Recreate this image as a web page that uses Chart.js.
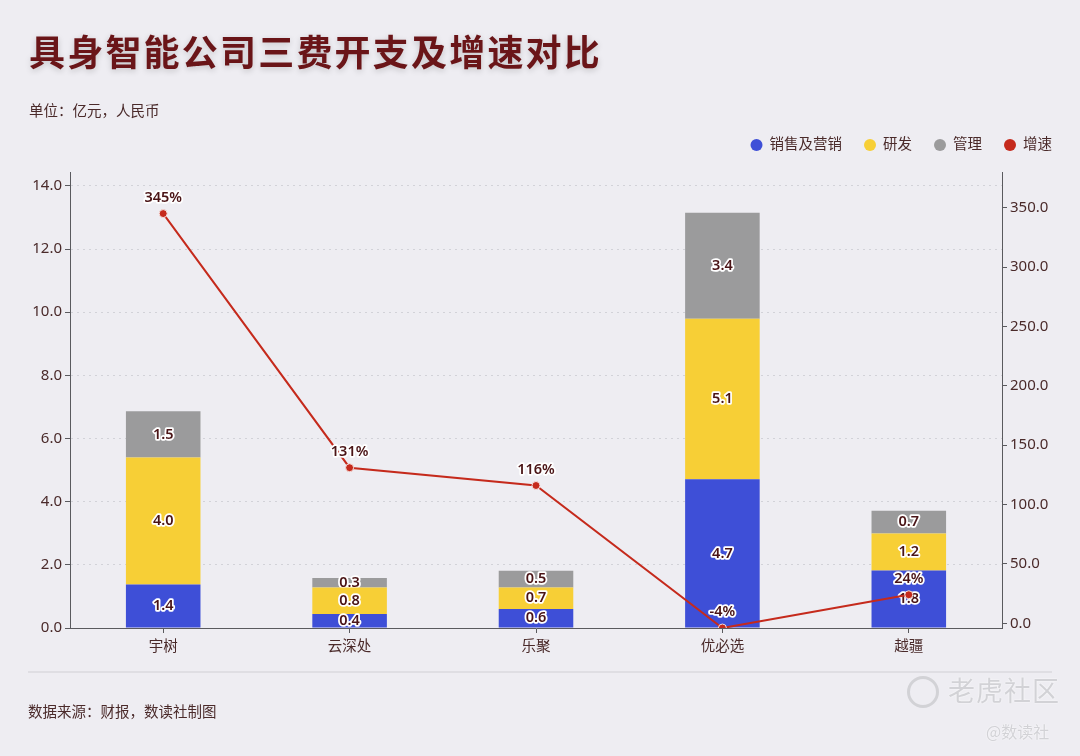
<!DOCTYPE html>
<html><head><meta charset="utf-8">
<script src="https://cdn.jsdelivr.net/npm/chart.js@4.4.0/dist/chart.umd.min.js"></script>
<style>
html,body{margin:0;padding:0;background:#eeedf2;}
#wrap{position:relative;width:1080px;height:756px;overflow:hidden;font-family:"Noto Sans CJK SC","Noto Sans",sans-serif;background:#eeedf2;}
#c{position:absolute;left:0;top:0;}
.title{position:absolute;left:29px;top:28px;font-size:36px;font-weight:700;color:#6a1518;letter-spacing:2.2px;line-height:44px;text-shadow:0 2px 6px rgba(0,0,0,0.18);white-space:nowrap;}
.sub{position:absolute;left:29px;top:100px;font-size:14.5px;line-height:20px;color:#4a2a2a;}
.sep{position:absolute;left:28px;top:671px;width:1024px;height:2px;background:#dfdee3;}
.foot{position:absolute;left:28px;top:701px;font-size:14.5px;line-height:20px;color:#4a2a2a;}
.wm1{position:absolute;left:948px;top:672px;font-size:27px;line-height:36px;color:#d2d2d6;text-shadow:0 0 2px #fff;letter-spacing:1px;}
.wm2{position:absolute;left:986px;top:720px;font-size:16px;line-height:22px;color:#d2d2d6;text-shadow:0 0 2px #fff;}
.logo{position:absolute;left:907px;top:676px;width:26px;height:26px;border:3px solid #d2d2d6;border-radius:50%;}
</style></head>
<body>
<div id="wrap">
<canvas id="c" width="1080" height="756"></canvas>
<div class="title">具身智能公司三费开支及增速对比</div>
<div class="sub">单位：亿元，人民币</div>
<div class="sep"></div>
<div class="foot">数据来源：财报，数读社制图</div>
<div class="logo"></div>
<div class="wm1">老虎社区</div>
<div class="wm2">@数读社</div>
</div>
<script>
const categories = ['宇树','云深处','乐聚','优必选','越疆'];
const seriesNames = ['销售及营销','研发','管理','增速'];
const salesMarketing = [1.38, 0.44, 0.60, 4.71, 1.82];
const rnd = [4.02, 0.84, 0.68, 5.08, 1.17];
const admin = [1.46, 0.30, 0.53, 3.36, 0.72];
const growth = [345, 131, 116, -4, 24];
const leftTicks = [0, 2, 4, 6, 8, 10, 12, 14];
const rightTicks = [0, 50, 100, 150, 200, 250, 300, 350];

const FONT = '"Noto Sans","Noto Sans CJK SC",sans-serif';
const TXT = '#4a2a2a';
const AX = '#5a5a5e';

const valuePlugin = {
  id: 'vals',
  afterDatasetDraw(chart, args) {
    const ds = chart.data.datasets[args.index];
    const ctx = chart.ctx;
    ctx.save();
    ctx.font = '600 14.5px ' + FONT;
    ctx.textAlign = 'center';
    ctx.textBaseline = 'middle';
    ctx.lineJoin = 'round';
    args.meta.data.forEach((el, j) => {
      const v = ds.data[j];
      let x = el.x, y, t;
      if (ds.type === 'line') { y = el.y - 16; t = v + '%'; }
      else { y = (el.y + el.base) / 2; t = v.toFixed(1); }
      ctx.lineWidth = 3.5; ctx.strokeStyle = '#ffffff'; ctx.strokeText(t, x, y);
      ctx.fillStyle = '#4a1416'; ctx.fillText(t, x, y);
    });
    ctx.restore();
  }
};

const legendPlugin = {
  id: 'customLegend',
  afterDraw(chart) {
    const ctx = chart.ctx;
    ctx.save();
    ctx.font = '14.5px ' + FONT;
    ctx.textBaseline = 'middle';
    const r = 6, gapT = 7, gapI = 22, y = 145;
    const items = chart.data.datasets.map(d => ({label: d.label, color: d.type === 'line' ? d.borderColor : d.backgroundColor}));
    const widths = items.map(it => 2 * r + gapT + ctx.measureText(it.label).width);
    const total = widths.reduce((a, b) => a + b, 0) + gapI * (items.length - 1);
    let x = 1052 - total;
    items.forEach((it, i) => {
      ctx.beginPath();
      ctx.arc(x + r, y, r, 0, Math.PI * 2);
      ctx.fillStyle = it.color; ctx.fill();
      ctx.fillStyle = TXT;
      ctx.textAlign = 'left';
      ctx.fillText(it.label, x + 2 * r + gapT, y);
      x += widths[i] + gapI;
    });
    ctx.restore();
  }
};

new Chart(document.getElementById('c'), {
  data: {
    labels: categories,
    datasets: [
      {type: 'bar', label: seriesNames[0], data: salesMarketing, backgroundColor: '#3e4fd7', yAxisID: 'y', stack: 's', order: 1, barPercentage: 0.4, categoryPercentage: 1},
      {type: 'bar', label: seriesNames[1], data: rnd, backgroundColor: '#f7cf36', yAxisID: 'y', stack: 's', order: 1, barPercentage: 0.4, categoryPercentage: 1},
      {type: 'bar', label: seriesNames[2], data: admin, backgroundColor: '#9b9b9c', yAxisID: 'y', stack: 's', order: 1, barPercentage: 0.4, categoryPercentage: 1},
      {type: 'line', label: seriesNames[3], data: growth, borderColor: '#c52a1c', backgroundColor: '#c52a1c', yAxisID: 'y1', order: 0, borderWidth: 2, tension: 0,
       pointRadius: 4, pointBackgroundColor: '#c52a1c', pointBorderColor: '#f4e0de', pointBorderWidth: 1}
    ]
  },
  options: {
    responsive: false,
    animation: false,
    devicePixelRatio: 1,
    layout: {padding: {top: 172, bottom: 88, left: 0, right: 0}},
    plugins: {legend: {display: false}, tooltip: {enabled: false}},
    scales: {
      x: {
        stacked: true,
        offset: true,
        border: {color: AX, width: 1},
        grid: {offset: false, drawOnChartArea: false, tickLength: 5, tickColor: AX},
        ticks: {color: TXT, font: {size: 14.5, family: FONT}, padding: 5},
        afterFit(s) { s.height = 40; }
      },
      y: {
        stacked: true,
        position: 'left',
        min: 0, max: 14.44,
        afterBuildTicks(s) { s.ticks = leftTicks.map(v => ({value: v})); },
        border: {color: AX, width: 1, dash: [2, 4]},
        grid: {color: '#d2d2d8', lineWidth: 1, tickLength: 5, tickColor: AX, tickBorderDash: []},
        ticks: {color: TXT, font: {size: 15, family: FONT}, padding: 3, callback: v => Number(v).toFixed(1)},
        afterFit(s) { s.width = 70; }
      },
      y1: {
        position: 'right',
        min: -4, max: 380,
        afterBuildTicks(s) { s.ticks = rightTicks.map(v => ({value: v})); },
        border: {color: AX, width: 1},
        grid: {drawOnChartArea: false, tickLength: 5, tickColor: AX},
        ticks: {color: TXT, font: {size: 15, family: FONT}, padding: 3, callback: v => Number(v).toFixed(1)},
        afterFit(s) { s.width = 78; }
      }
    }
  },
  plugins: [valuePlugin, legendPlugin]
});
</script>
</body></html>
